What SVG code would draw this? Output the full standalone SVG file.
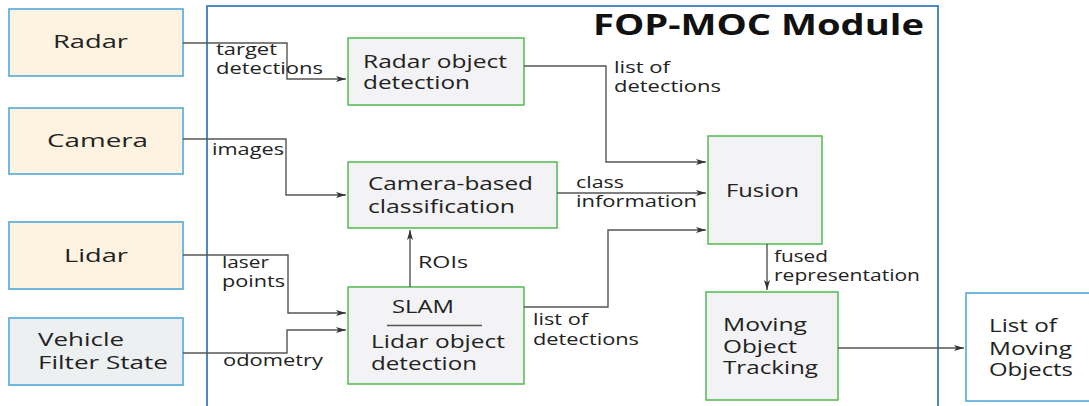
<svg xmlns="http://www.w3.org/2000/svg" width="1089" height="406" viewBox="0 0 1089 406">
<style>
.ext{fill:#fdf3e0;stroke:#4fa9dc;stroke-width:1.6}
.veh{fill:#edf0f1;stroke:#4fa9dc;stroke-width:1.6}
.out{fill:#ffffff;stroke:#4fa9dc;stroke-width:1.6}
.mod{fill:#ffffff;stroke:#3b7dbd;stroke-width:1.8}
.proc{fill:#f3f3f5;stroke:#5cbf5c;stroke-width:1.6}
.t{font-family:"Open Sans","Noto Sans",sans-serif;fill:#222;font-size:19px}
.l{font-family:"Open Sans","Noto Sans",sans-serif;fill:#222;font-size:15.5px}
.title{font-family:"Open Sans","Noto Sans",sans-serif;fill:#111;font-size:28px;font-weight:bold}
.c{fill:none;stroke:#555;stroke-width:1.4}
</style>
<defs>
<marker id="ah" viewBox="0 0 10 6" refX="10" refY="3" markerWidth="10" markerHeight="6" markerUnits="userSpaceOnUse" orient="auto">
<path d="M0,0 L10,3 L0,6 L2.5,3 Z" fill="#333"/>
</marker>
</defs>
<rect width="1089" height="406" fill="#ffffff"/>
<g id="module">
<rect class="mod" x="207" y="6" width="731" height="410"/>
<text class="title" x="593" y="35" textLength="331" lengthAdjust="spacingAndGlyphs">FOP-MOC Module</text>
</g>
<g id="radar">
<rect class="ext" x="9" y="9" width="174" height="67"/>
<text class="t" x="53" y="48" font-size="20" textLength="75" lengthAdjust="spacingAndGlyphs">Radar</text>
</g>
<g id="camera">
<rect class="ext" x="9" y="108" width="174" height="66"/>
<text class="t" x="47" y="147" font-size="20" textLength="101" lengthAdjust="spacingAndGlyphs">Camera</text>
</g>
<g id="lidar">
<rect class="ext" x="9" y="222" width="174" height="67"/>
<text class="t" x="64" y="262" font-size="20" textLength="64" lengthAdjust="spacingAndGlyphs">Lidar</text>
</g>
<g id="vehicle">
<rect class="veh" x="9" y="318" width="174" height="67"/>
<text class="t" x="38" y="346" textLength="86" lengthAdjust="spacingAndGlyphs">Vehicle</text>
<text class="t" x="38" y="369" textLength="130" lengthAdjust="spacingAndGlyphs">Filter State</text>
</g>
<g id="radar-object-detection">
<rect class="proc" x="348" y="38" width="176" height="67"/>
<text class="t" x="363" y="68" textLength="144" lengthAdjust="spacingAndGlyphs">Radar object</text>
<text class="t" x="363" y="89" textLength="107" lengthAdjust="spacingAndGlyphs">detection</text>
</g>
<g id="camera-classification">
<rect class="proc" x="348" y="162" width="209" height="66"/>
<text class="t" x="368" y="190" textLength="165" lengthAdjust="spacingAndGlyphs">Camera-based</text>
<text class="t" x="368" y="213" textLength="147" lengthAdjust="spacingAndGlyphs">classification</text>
</g>
<g id="slam-lidar">
<rect class="proc" x="348" y="287" width="176" height="97"/>
<text class="t" x="392" y="313" textLength="62" lengthAdjust="spacingAndGlyphs">SLAM</text>
<line x1="387" y1="325.5" x2="482" y2="325.5" stroke="#555" stroke-width="1.4"/>
<text class="t" x="371" y="348" textLength="134" lengthAdjust="spacingAndGlyphs">Lidar object</text>
<text class="t" x="371" y="370" textLength="106" lengthAdjust="spacingAndGlyphs">detection</text>
</g>
<g id="fusion">
<rect class="proc" x="708" y="136" width="114" height="108"/>
<text class="t" x="726" y="197" textLength="73" lengthAdjust="spacingAndGlyphs">Fusion</text>
</g>
<g id="moving-object-tracking">
<rect class="proc" x="706" y="292" width="132" height="108"/>
<text class="t" x="723" y="331" textLength="84" lengthAdjust="spacingAndGlyphs">Moving</text>
<text class="t" x="723" y="353" textLength="74" lengthAdjust="spacingAndGlyphs">Object</text>
<text class="t" x="723" y="374" textLength="95" lengthAdjust="spacingAndGlyphs">Tracking</text>
</g>
<g id="list-of-moving-objects">
<rect class="out" x="966" y="293" width="130" height="108"/>
<text class="t" x="989" y="332" textLength="68" lengthAdjust="spacingAndGlyphs">List of</text>
<text class="t" x="989" y="355" textLength="83" lengthAdjust="spacingAndGlyphs">Moving</text>
<text class="t" x="989" y="376" textLength="84" lengthAdjust="spacingAndGlyphs">Objects</text>
</g>
<g id="connectors">
<polyline class="c" points="183,43 287,43 287,79 346,79" marker-end="url(#ah)"/>
<polyline class="c" points="183,139 286,139 286,195 346,195" marker-end="url(#ah)"/>
<polyline class="c" points="183,255 288,255 288,313 346,313" marker-end="url(#ah)"/>
<polyline class="c" points="183,353 287,353 287,330 346,330" marker-end="url(#ah)"/>
<polyline class="c" points="524,66 606,66 606,162 706,162" marker-end="url(#ah)"/>
<polyline class="c" points="557,193 706,193" marker-end="url(#ah)"/>
<polyline class="c" points="524,307 608,307 608,230 706,230" marker-end="url(#ah)"/>
<polyline class="c" points="410,287 410,230" marker-end="url(#ah)"/>
<polyline class="c" points="767,244 767,290" marker-end="url(#ah)"/>
<polyline class="c" points="838,348 964,348" marker-end="url(#ah)"/>
<text class="l" x="216" y="55" textLength="61" lengthAdjust="spacingAndGlyphs">target</text>
<text class="l" x="216" y="74" textLength="107" lengthAdjust="spacingAndGlyphs">detections</text>
<text class="l" x="212" y="155" textLength="72" lengthAdjust="spacingAndGlyphs">images</text>
<text class="l" x="222" y="268" textLength="47" lengthAdjust="spacingAndGlyphs">laser</text>
<text class="l" x="222" y="287" textLength="63" lengthAdjust="spacingAndGlyphs">points</text>
<text class="l" x="223" y="366" textLength="100" lengthAdjust="spacingAndGlyphs">odometry</text>
<text class="l" x="614" y="73" textLength="56" lengthAdjust="spacingAndGlyphs">list of</text>
<text class="l" x="614" y="92" textLength="107" lengthAdjust="spacingAndGlyphs">detections</text>
<text class="l" x="576" y="188" textLength="48" lengthAdjust="spacingAndGlyphs">class</text>
<text class="l" x="576" y="207" textLength="121" lengthAdjust="spacingAndGlyphs">information</text>
<text class="l" x="418" y="268" textLength="50" lengthAdjust="spacingAndGlyphs">ROIs</text>
<text class="l" x="533" y="325" textLength="55" lengthAdjust="spacingAndGlyphs">list of</text>
<text class="l" x="533" y="345" textLength="106" lengthAdjust="spacingAndGlyphs">detections</text>
<text class="l" x="774" y="262" textLength="54" lengthAdjust="spacingAndGlyphs">fused</text>
<text class="l" x="774" y="281" textLength="146" lengthAdjust="spacingAndGlyphs">representation</text>
</g>
</svg>
